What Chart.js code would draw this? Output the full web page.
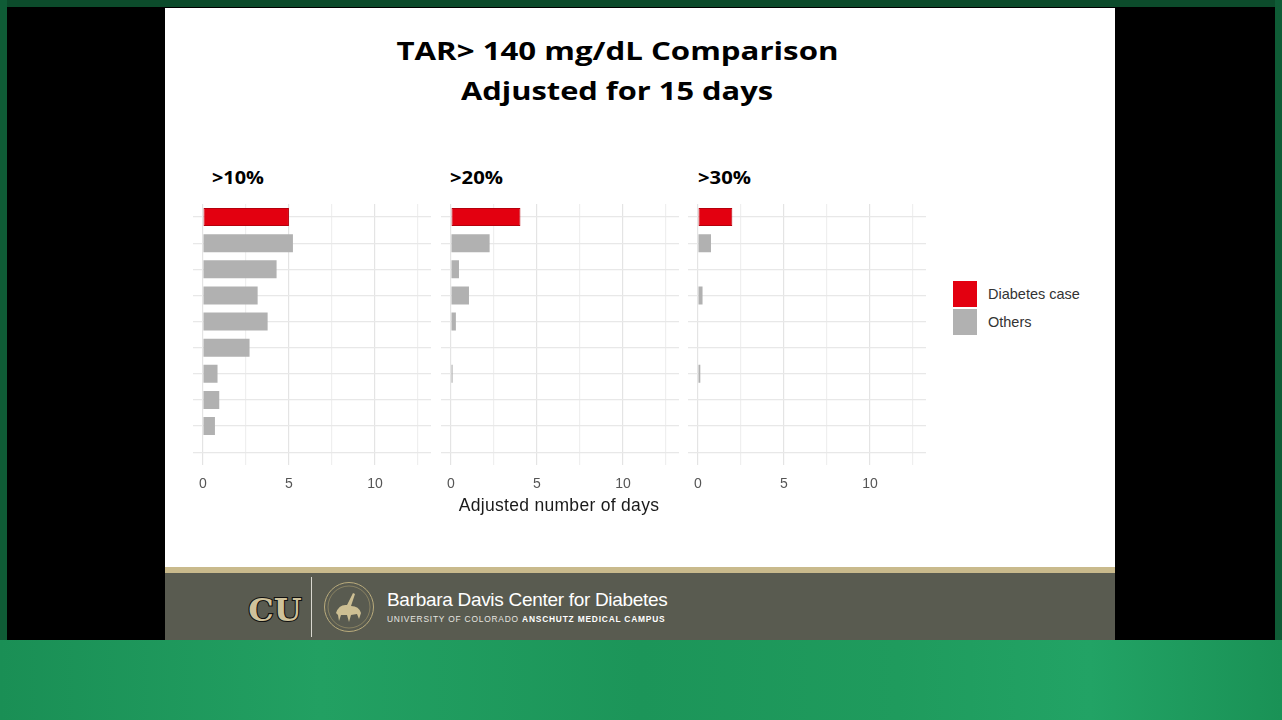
<!DOCTYPE html>
<html>
<head>
<meta charset="utf-8">
<title>TAR> 140 mg/dL Comparison</title>
<script src="https://cdn.jsdelivr.net/npm/chart.js@4.4.1/dist/chart.umd.min.js"></script>
<style>
html,body{margin:0;padding:0;}
body{
  width:1282px;height:720px;position:relative;overflow:hidden;
  background:#0c4b2b;
  font-family:"Liberation Sans",Arial,sans-serif;
}
.edge-left{position:absolute;left:0;top:0;width:7px;height:640px;background:#0f5c36;}
.edge-right{position:absolute;left:1275px;top:0;width:7px;height:640px;background:#0f5c36;}
.bg-bottom{
  position:absolute;left:0;top:640px;width:1282px;height:80px;
  background:linear-gradient(90deg,#1a8f55 0%,#22a062 25%,#1c9559 50%,#1f9b5d 70%,#22a365 85%,#1a9256 100%);
}
.frame{position:absolute;left:7px;top:7px;width:1268px;height:633px;background:#000;}
.slide{position:absolute;left:165px;top:8px;width:950px;height:559px;background:#fff;}
.tan{position:absolute;left:165px;top:567px;width:950px;height:6px;background:#c9ba8c;}
.footer{position:absolute;left:165px;top:573px;width:950px;height:67px;background:#595b50;}

.title-line{
  position:absolute;left:317px;width:600px;
  text-align:center;color:#000;
  font-family:"Open Sans",Lato,sans-serif;font-weight:700;
  font-size:24.5px;line-height:40px;white-space:nowrap;
}
.title-line span{display:inline-block;transform-origin:50% 50%;}
.facet{
  position:absolute;top:166px;color:#000;white-space:nowrap;
  font-family:"Open Sans",Lato,sans-serif;font-weight:700;font-size:17px;
}
.facet span{display:inline-block;transform-origin:0 50%;}
.panel{position:absolute;top:204px;}
.axis-title{
  position:absolute;left:441px;top:495px;width:236px;text-align:center;
  font-size:17.5px;letter-spacing:0.3px;color:#1a1a1a;white-space:nowrap;
}
.key{position:absolute;left:953px;width:24px;height:26px;}
.key-label{position:absolute;left:988px;font-size:14.5px;color:#333;}

.sep{position:absolute;left:311px;top:577px;width:1px;height:60px;background:#d9d8cf;}
.brand{position:absolute;left:387px;top:589px;color:#fff;font-size:19px;letter-spacing:-0.3px;}
.brand-sub{position:absolute;left:387px;top:614px;color:#e6e6e0;font-size:8.4px;letter-spacing:0.8px;}
.brand-sub b{color:#fff;}
</style>
</head>
<body>

<div class="edge-left"></div>
<div class="edge-right"></div>
<div class="frame"></div>
<div class="bg-bottom"></div>
<div class="slide"></div>
<div class="tan"></div>
<div class="footer"></div>

<div class="title-line" style="top:31px;"><span id="title0" data-w="442">TAR&gt; 140 mg/dL Comparison</span></div>
<div class="title-line" style="top:71px;"><span id="title1" data-w="312">Adjusted for 15 days</span></div>

<div class="facet" style="left:212px;"><span id="facet0" data-w="52"></span></div>
<div class="facet" style="left:450px;"><span id="facet1" data-w="53"></span></div>
<div class="facet" style="left:698px;"><span id="facet2" data-w="53"></span></div>

<div class="panel" style="left:188px;"><canvas id="panel0" width="243" height="300"></canvas></div>
<div class="panel" style="left:436px;"><canvas id="panel1" width="243" height="300"></canvas></div>
<div class="panel" style="left:683px;"><canvas id="panel2" width="243" height="300"></canvas></div>

<div class="axis-title">Adjusted number of days</div>

<div id="legend"></div>

<!-- footer logos -->
<svg style="position:absolute;left:248px;top:582px;" width="56" height="50">
  <text x="27" y="39" text-anchor="middle" font-family="DejaVu Serif" font-weight="bold"
    font-size="32" fill="#cfc29b" stroke="#111" stroke-width="2.2" paint-order="stroke">CU</text>
</svg>
<div class="sep"></div>
<svg style="position:absolute;left:322px;top:580px;" width="54" height="54">
  <circle cx="27" cy="27" r="24.5" fill="none" stroke="#b9ab7c" stroke-width="1"/>
  <circle cx="27" cy="27" r="21" fill="none" stroke="#a89a6d" stroke-width="0.6"/>
  <path d="M14 33 q3 -9 11 -8 l6 -12 l2 1 l-4 12 q8 0 10 7 l-2 6 l-2 -5 l-6 1 l-2 7 l-2 -7 l-6 0 l-2 6 l-1 -6 z" fill="#cdbf93"/>
</svg>
<div class="brand">Barbara Davis Center for Diabetes</div>
<div class="brand-sub">UNIVERSITY OF COLORADO <b>ANSCHUTZ MEDICAL CAMPUS</b></div>

<script>

/* DATA */

const subjects = [
  "Case", "Other 1", "Other 2", "Other 3", "Other 4",
  "Other 5", "Other 6", "Other 7", "Other 8", "Other 9"
];

const groups = [
  "Diabetes case", "Others", "Others", "Others", "Others",
  "Others", "Others", "Others", "Others", "Others"
];

const legendGroups = ["Diabetes case", "Others"];

const panelTitles = [">10%", ">20%", ">30%"];

// adjusted number of days per threshold
const over10 = [5.0, 5.23, 4.28, 3.18, 3.76, 2.71, 0.85, 0.95, 0.70, 0];
const over20 = [4.04, 2.25, 0.47, 1.05, 0.29, 0, 0.10, 0, 0, 0];
const over30 = [2.0, 0.76, 0, 0.27, 0, 0, 0.14, 0, 0, 0];

const tickValues = [0, 2.5, 5, 7.5, 10, 12.5];
const tickLabels = ["0", "", "5", "", "10", ""];

/* STYLE */

const fillColor = {
  "Diabetes case": "#e30010",
  "Others": "#b1b1b1"
};

const edgeColor = {
  "Diabetes case": "#b5000c",
  "Others": "#b1b1b1"
};

/* PANELS */

function makePanel(id, values){

  const ctx = document.getElementById(id);

  return new Chart(ctx, {
    type: "bar",
    data: {
      labels: subjects,
      datasets: [{
        data: values,
        backgroundColor: groups.map(g => fillColor[g]),
        borderColor: groups.map(g => edgeColor[g]),
        borderWidth: groups.map(g => g === "Diabetes case" ? 1 : 0),
        borderSkipped: false,
        barPercentage: 0.69,
        categoryPercentage: 1
      }]
    },
    options: {
      indexAxis: "y",
      responsive: false,
      animation: false,
      layout: { padding: 0 },
      plugins: {
        legend: { display: false },
        tooltip: { enabled: false }
      },
      scales: {
        x: {
          type: "linear",
          min: -0.55,
          max: 13.25,
          afterBuildTicks: (scale) => {
            scale.ticks = tickValues.map(v => ({ value: v }));
          },
          ticks: {
            autoSkip: false,
            maxRotation: 0,
            padding: 11,
            color: "#555555",
            font: { family: "Liberation Sans", size: 14 },
            callback: (v) => tickLabels[tickValues.indexOf(v)]
          },
          grid: {
            drawTicks: false,
            lineWidth: 1.2,
            color: (c) => (c.tick && c.tick.value % 5 === 0) ? "#e4e4e4" : "#efefef"
          },
          border: { display: false }
        },
        y: {
          ticks: { display: false },
          grid: {
            offset: false,
            drawTicks: false,
            lineWidth: 1.2,
            color: "#e8e8e8"
          },
          border: { display: false }
        }
      }
    }
  });

}

makePanel("panel0", over10);
makePanel("panel1", over20);
makePanel("panel2", over30);

/* FACET LABELS */

panelTitles.forEach((t, i) => {
  document.getElementById("facet" + i).textContent = t;
});

/* LEGEND */

const legend = document.getElementById("legend");

legendGroups.forEach((g, i) => {

  const key = document.createElement("div");
  key.className = "key";
  key.style.top = (281 + i * 28) + "px";
  key.style.background = fillColor[g];
  legend.appendChild(key);

  const label = document.createElement("div");
  label.className = "key-label";
  label.style.top = (286 + i * 28) + "px";
  label.textContent = g;
  legend.appendChild(label);

});

/* STRETCH TEXT TO SLIDE WIDTHS */

function fitText(){
  document.querySelectorAll("[data-w]").forEach(el => {
    el.style.transform = "none";
    const w = el.getBoundingClientRect().width;
    if(w > 0){
      el.style.transform = "scaleX(" + (el.dataset.w / w) + ")";
    }
  });
}

fitText();

if(document.fonts){
  document.fonts.ready.then(fitText);
}

</script>
</body>
</html>
